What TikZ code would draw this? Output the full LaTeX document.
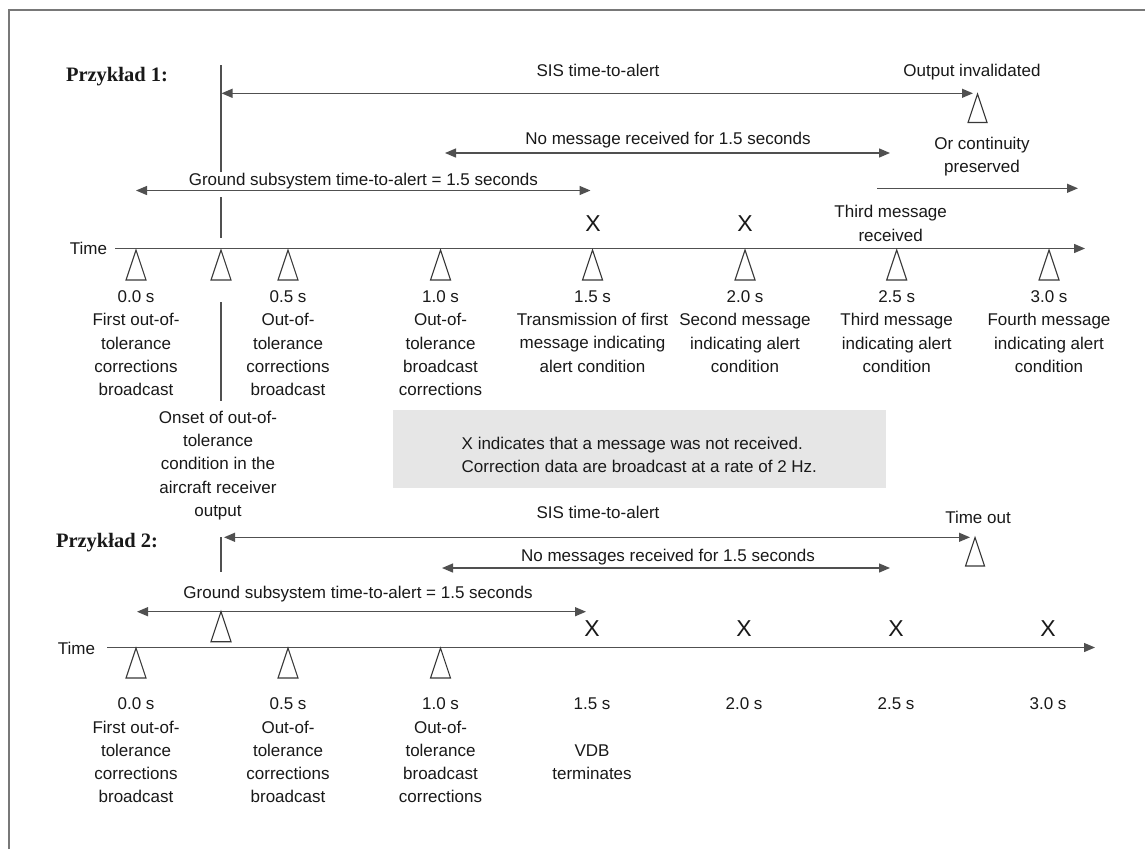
\documentclass[tikz,border=0pt]{standalone}
\usepackage{fontspec}
\setmainfont{Liberation Sans}
\newfontfamily\tnr{Liberation Serif}
\usetikzlibrary{arrows.meta}
\definecolor{lc}{RGB}{80,80,80}
\definecolor{tc}{RGB}{25,25,25}
\definecolor{boxfill}{RGB}{230,230,230}
\definecolor{framec}{RGB}{120,120,120}
\begin{document}
\begin{tikzpicture}[x=1pt,y=-1pt,
  every node/.style={inner sep=0pt, outer sep=0pt, text=tc, font=\fontsize{17}{23.3}\selectfont},
  lbl/.style={anchor=north, align=center},
  txt/.style={anchor=base},
  xmark/.style={anchor=base, font=\fontsize{23}{23}\selectfont},
  head/.style={anchor=base west, font=\tnr\bfseries\fontsize{20.5}{24}\selectfont},
  plain/.style={draw=lc, line width=1.3pt},
  arr/.style={draw=lc, line width=1.3pt, -{Triangle[length=11pt,width=9pt]}},
  darr/.style={draw=lc, line width=1.3pt, {Triangle[length=11pt,width=9pt]}-{Triangle[length=11pt,width=9pt]}},
  marker/.style={draw=lc!70!black, line width=1.1pt, fill=white, line join=miter},
  tri/.pic={\draw[marker] (0,0) -- (-10,30) -- (10,30) -- cycle;},
  trismall/.pic={\draw[marker] (0,0) -- (-9.5,28.5) -- (9.5,28.5) -- cycle;},
]
\useasboundingbox (0,0) rectangle (1145,849);
\fill[white] (0,0) rectangle (1145,849);
\draw[framec, line width=1.8pt] (9,849) -- (9,10) -- (1145,10);

% ---------------- Example 1 ----------------
\node[head] (p1) at (66,81) {Przykład 1:};
\draw[plain] (221,65) -- (221,172) (221,197) -- (221,238);
\draw[plain] (221,302) -- (221,401);

\coordinate (sisL1) at (221.5,93.3);
\coordinate (sisR1) at (973,93.3);
\draw[darr] (sisL1) -- (sisR1);
\node[txt] (sis1) at (598,76) {SIS time-to-alert};
\node[txt] (oi) at (972,76) {Output invalidated};
\pic at (977.5,94) {trismall};
\node[lbl] (oc) at (982,136.9) {Or continuity\\preserved};

\coordinate (nmL1) at (445,153);
\coordinate (nmR1) at (890,153);
\draw[darr] (nmL1) -- (nmR1);
\node[txt] (nm1) at (668,144) {No message received for 1.5 seconds};

\coordinate (gsL1) at (136,190.5);
\coordinate (gsR1) at (590.5,190.5);
\draw[darr] (gsL1) -- (gsR1);
\node[txt] (gs1) at (363.4,185) {Ground subsystem time-to-alert = 1.5 seconds};

\coordinate (cpL) at (877,188.3);
\coordinate (cpR) at (1078,188.3);
\draw[arr] (cpL) -- (cpR);
\node[lbl] (tmr) at (890.7,205.6) {Third message\\received};

\node[xmark] (x11) at (593,231.5) {X};
\node[xmark] (x12) at (745,231.5) {X};

\node[anchor=base east] (time1) at (107,254.7) {Time};
\coordinate (axL1) at (115,248.5);
\coordinate (axR1) at (1085,248.5);
\draw[arr] (axL1) -- (axR1);

\foreach \x in {136,221,288,440.5,592.5,745,896.7,1049} {\pic at (\x,250) {tri};}

\node[lbl] (a10) at (136,290.6) {0.0 s\\First out-of-\\tolerance\\corrections\\broadcast};
\node[lbl] (a11) at (288,290.6) {0.5 s\\Out-of-\\tolerance\\corrections\\broadcast};
\node[lbl] (a12) at (440.5,290.6) {1.0 s\\Out-of-\\tolerance\\broadcast\\corrections};
\node[lbl] (a13) at (592.5,290.6) {1.5 s\\Transmission of first\\message indicating\\alert condition};
\node[lbl] (a14) at (745,290.6) {2.0 s\\Second message\\indicating alert\\condition};
\node[lbl] (a15) at (896.7,290.6) {2.5 s\\Third message\\indicating alert\\condition};
\node[lbl] (a16) at (1049,290.6) {3.0 s\\Fourth message\\indicating alert\\condition};

\node[lbl] (onset) at (218,410.8) {Onset of out-of-\\tolerance\\condition in the\\aircraft receiver\\output};

% note box
\fill[boxfill] (392.7,410) rectangle (886,488.3);
\node[anchor=north west, align=left] (note) at (461.7,437.2) {X indicates that a message was not received.\\Correction data are broadcast at a rate of 2 Hz.};

% ---------------- Example 2 ----------------
\node[head] (p2) at (56,547) {Przykład 2:};
\draw[plain] (221,537) -- (221,572);

\coordinate (sisL2) at (224,537.3);
\coordinate (sisR2) at (970,537.3);
\draw[darr] (sisL2) -- (sisR2);
\node[txt] (sis2) at (598,518) {SIS time-to-alert};
\node[txt] (to) at (978,523) {Time out};
\pic at (975,537.5) {trismall};

\coordinate (nmL2) at (442,568);
\coordinate (nmR2) at (890,568);
\draw[darr] (nmL2) -- (nmR2);
\node[txt] (nm2) at (668,561) {No messages received for 1.5 seconds};

\coordinate (gsL2) at (137,611.7);
\coordinate (gsR2) at (586,611.7);
\draw[darr] (gsL2) -- (gsR2);
\node[txt] (gs2) at (358,598) {Ground subsystem time-to-alert = 1.5 seconds};
\pic at (221,611.7) {tri};

\node[xmark] (x21) at (592,636.5) {X};
\node[xmark] (x22) at (744,636.5) {X};
\node[xmark] (x23) at (896,636.5) {X};
\node[xmark] (x24) at (1048,636.5) {X};

\node[anchor=base east] (time2) at (95,654) {Time};
\coordinate (axL2) at (107,647.5);
\coordinate (axR2) at (1095,647.5);
\draw[arr] (axL2) -- (axR2);

\foreach \x in {136,288,440.5} {\pic at (\x,648) {tri};}

\node[lbl] (b10) at (136,697.9) {0.0 s\\First out-of-\\tolerance\\corrections\\broadcast};
\node[lbl] (b11) at (288,697.9) {0.5 s\\Out-of-\\tolerance\\corrections\\broadcast};
\node[lbl] (b12) at (440.5,697.9) {1.0 s\\Out-of-\\tolerance\\broadcast\\corrections};
\node[lbl] (b13) at (592,697.9) {1.5 s\\\mbox{}\\VDB\\terminates};
\node[lbl] (b14) at (744,697.9) {2.0 s};
\node[lbl] (b15) at (896,697.9) {2.5 s};
\node[lbl] (b16) at (1048,697.9) {3.0 s};
\end{tikzpicture}
\end{document}
